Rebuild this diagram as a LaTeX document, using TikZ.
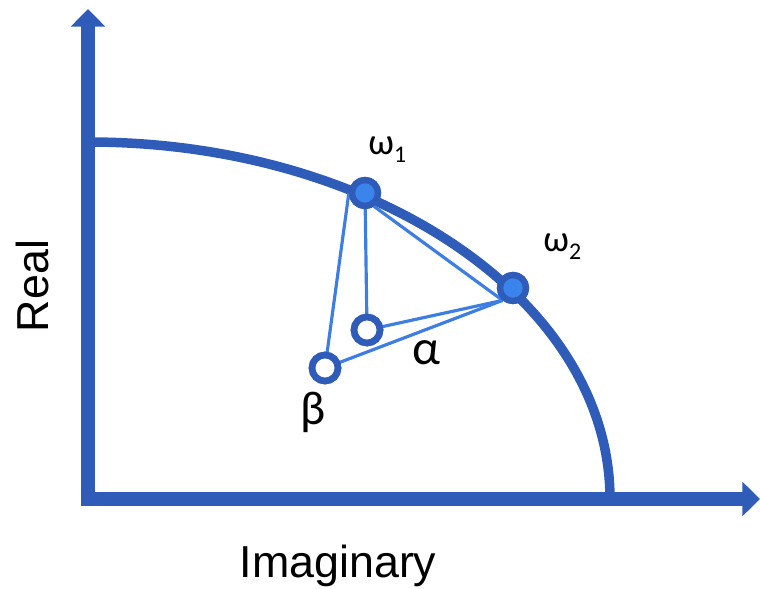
\documentclass[tikz,border=0pt]{standalone}
\usepackage{fontspec}
\setmainfont{Liberation Sans}
\newfontfamily\greekfont{Carlito}
\usetikzlibrary{arrows.meta}
\definecolor{axisblue}{RGB}{46,92,184}
\definecolor{linkblue}{RGB}{62,126,226}
\definecolor{dotblue}{RGB}{58,132,236}
\tikzset{
  axisline/.style={draw=axisblue, line width=8.5pt, -{Triangle[length=10pt, width=19pt]}},
  arcline/.style={draw=axisblue, line width=5.4pt},
  linkline/.style={draw=linkblue, line width=1.8pt},
  fulldot/.style={circle, draw=axisblue, fill=dotblue, line width=3.6pt, inner sep=0pt, minimum size=0.52cm},
  opendot/.style={circle, draw=axisblue, fill=white, line width=3.8pt, inner sep=0pt, minimum size=0.52cm},
  greeklabel/.style={inner sep=0pt, font=\greekfont\fontsize{21}{24}\selectfont},
  axislabel/.style={inner sep=0pt, anchor=base, font=\fontsize{25.5}{30}\selectfont}
}
\newcommand{\lowsub}[1]{\raisebox{-4.5pt}{\fontsize{13.6}{16}\selectfont #1}}

\begin{document}
\begin{tikzpicture}[x=0.02cm, y=0.02cm]
  \useasboundingbox (0,0) rectangle (760,588);

  % boundary curve and axes
  \draw[arcline] (88,446) arc[start angle=90, end angle=0, x radius=522, y radius=357];
  \draw[axisline] (88,82) -- (88,579);
  \draw[axisline] (81,89) -- (760,89);

  % points
  \node[fulldot] (w1) at (365,395) {};
  \node[fulldot] (w2) at (513,300) {};
  \node[opendot] (a)  at (367,258) {};
  \node[opendot] (b)  at (325,220) {};

  \draw[linkline] (w1.west)   -- (b.center);
  \draw[linkline] (w1.center) -- (a.center);
  \draw[linkline] (w1.304)    -- (w2.230);
  \draw[linkline] (a.center)  -- (w2.230);
  \draw[linkline] (b.center)  -- (w2.230);

  % redraw points above the links
  \node[fulldot] at (w1) {};
  \node[fulldot] at (w2) {};
  \node[opendot] at (a) {};
  \node[opendot] at (b) {};

  % labels
  \node[greeklabel, anchor=base west] (w1lbl) at (368,433) {ω\lowsub{1}};
  \node[greeklabel, anchor=base west] (w2lbl) at (543,336) {ω\lowsub{2}};
  \node[greeklabel, font=\greekfont\fontsize{28}{32}\selectfont] (albl) at (426,235) {α};
  \node[greeklabel, font=\greekfont\fontsize{27}{32}\selectfont] (blbl) at (313,176) {β};

  \node[axislabel, rotate=90] (reallbl) at (48,302) {Real};
  \node[axislabel] (imaglbl) at (338,11) {Imaginary};
\end{tikzpicture}
\end{document}
